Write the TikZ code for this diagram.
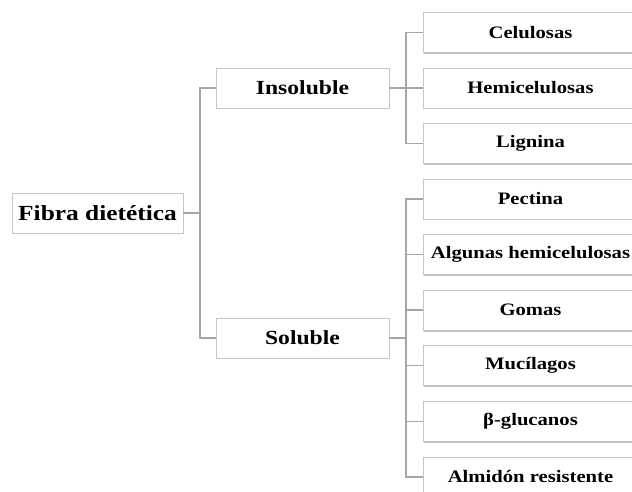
\documentclass[tikz,border=0pt]{standalone}
\usepackage{fontspec}
\setmainfont{Liberation Serif}[FakeStretch=1.18]
\usetikzlibrary{trees,shadows}

\tikzset{
  box/.style={draw=gray!45, fill=white, line width=0.6pt, inner sep=0pt,
    minimum height=40pt, align=center,
    drop shadow={shadow xshift=1pt, shadow yshift=-1.5pt, fill=black!25, opacity=1}},
  rootbox/.style={box, minimum width=171pt, font=\fontsize{21.5}{25}\selectfont\bfseries},
  catbox/.style={box, minimum width=173pt, font=\fontsize{20}{24}\selectfont\bfseries},
  itembox/.style={box, minimum width=215pt, font=\fontsize{17.5}{21}\selectfont\bfseries}
}

\begin{document}
\begin{tikzpicture}[
x=1pt, y=1pt,
grow'=right,
edge from parent/.style={draw=gray!70, line width=1.4pt},
edge from parent path={(\tikzparentnode.east) -- +(16.5pt,0) |- (\tikzchildnode.west)},
level 1/.style={level distance=205pt, sibling distance=250pt},
level 2/.style={level distance=228pt, sibling distance=55.6pt}]
\useasboundingbox (0,0) rectangle (632,492);
\clip (0,0) rectangle (632,492);
\node [rootbox] (fibra) at (97.5,279) {Fibra dietética}
  child {
	node [catbox] (insol) {Insoluble}
		child {
			node [itembox] (celu) {Celulosas}
		}
		child {
			node [itembox] (hemi) {Hemicelulosas}
		}
		child {
			node [itembox] (lign) {Lignina}
		}
  }
  child {
	node [catbox] (sol) {Soluble}
		child {
			node [itembox] (pect) {Pectina}
		}
		child {
			node [itembox] (alg) {Algunas hemicelulosas}
		}
		child {
			node [itembox] (gom) {Gomas}
		}
		child {
			node [itembox] (muci) {Mucílagos}
		}
		child {
			node [itembox] (gluc) {β-glucanos}
		}
		child {
			node [itembox] (almi) {Almidón resistente}
		}
  };
\end{tikzpicture}
\end{document}
